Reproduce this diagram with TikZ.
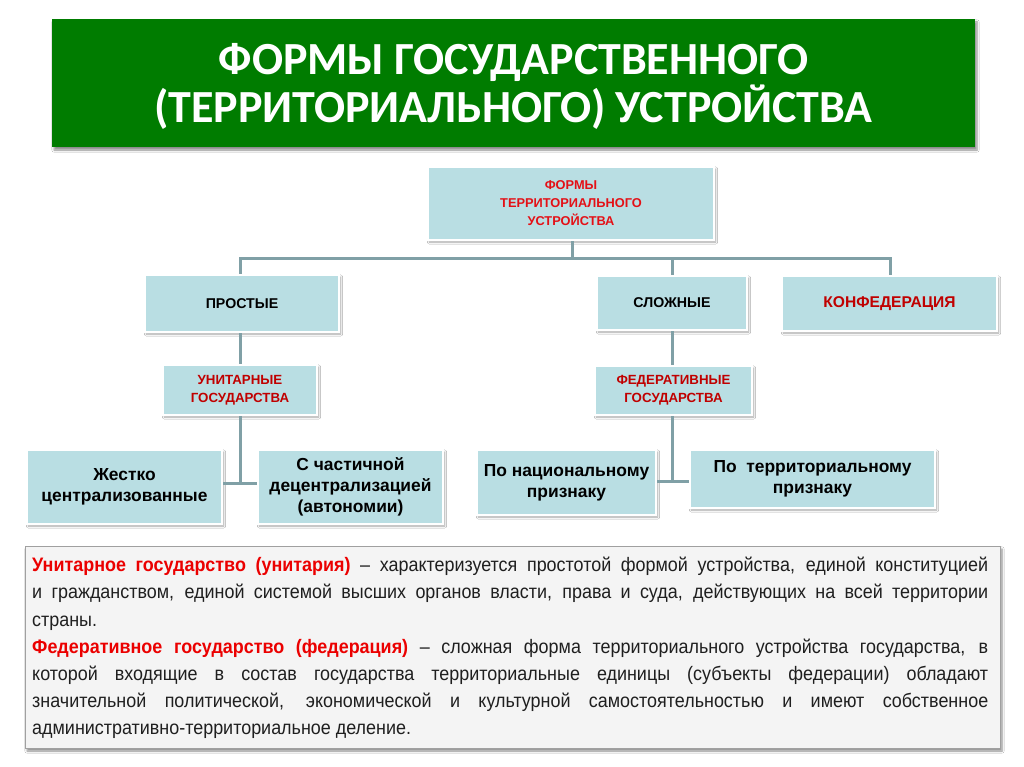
\documentclass[tikz,border=0pt]{standalone}
\usepackage{fontspec}
\setmainfont{Liberation Sans}
\newfontfamily\titlefont{Carlito}
\newfontfamily\bodyfont[FakeStretch=0.92]{Liberation Sans}
\usetikzlibrary{shadows.blur}
\definecolor{ttlgreen}{RGB}{0,124,0}
\definecolor{boxblue}{RGB}{185,222,227}
\definecolor{connc}{RGB}{128,160,166}
\definecolor{dred}{RGB}{192,0,0}
\definecolor{bred}{RGB}{228,16,22}
\definecolor{txtred}{RGB}{235,0,0}
\definecolor{panel}{RGB}{244,244,244}
\definecolor{panelborder}{RGB}{160,160,160}
\begin{document}
\begin{tikzpicture}[x=1pt,y=-1pt,
  bx/.style={draw=white, line width=2.5pt, fill=boxblue,
    blur shadow={shadow xshift=1.5pt, shadow yshift=-2pt, shadow blur steps=6, shadow opacity=35},
    inner sep=0pt, align=center},
  conn/.style={draw=connc, line width=3pt},
  capsm/.style={font=\bfseries\fontsize{12.8}{18}\selectfont},
  capun/.style={font=\bfseries\fontsize{13.3}{18}\selectfont},
  capmd/.style={font=\bfseries\fontsize{14.2}{18}\selectfont},
  lower/.style={font=\bfseries\fontsize{17.4}{21}\selectfont, text=black}
]
\fill[white] (0,0) rectangle (1024,767);
\useasboundingbox (0,0) rectangle (1024,767);

% title
\fill[ttlgreen, blur shadow={shadow xshift=2pt, shadow yshift=-3pt, shadow blur steps=6, shadow opacity=45}]
  (52,19) rectangle (975,147);
\node[inner sep=0pt, align=center, text=white, font=\titlefont\bfseries\fontsize{46}{48}\selectfont]
  (title) at (513.5,86) {ФОРМЫ ГОСУДАРСТВЕННОГО\\(ТЕРРИТОРИАЛЬНОГО) УСТРОЙСТВА};

% bus coordinates
\coordinate (bus) at (0,258);
\coordinate (ubus) at (0,483);
\coordinate (fbus) at (0,481);
\coordinate (tx) at (572,0);
\coordinate (px) at (240,0);
\coordinate (sx) at (672,0);
\coordinate (kx) at (890,0);

% boxes
\node[bx, capsm, text=bred, minimum width=286pt, minimum height=73pt] (top) at (571,203.5) {ФОРМЫ\\ТЕРРИТОРИАЛЬНОГО\\УСТРОЙСТВА};
\node[bx, capmd, minimum width=194pt, minimum height=57pt] (prost) at (242,303.5) {ПРОСТЫЕ};
\node[bx, capmd, minimum width=150pt, minimum height=54pt] (slozh) at (672,303) {СЛОЖНЫЕ};
\node[bx, font=\bfseries\fontsize{15.6}{18}\selectfont, text=dred, minimum width=215pt, minimum height=55pt] (konf) at (889.5,303.5) {КОНФЕДЕРАЦИЯ};
\node[bx, capun, text=dred, minimum width=154pt, minimum height=50pt] (unit) at (240,390) {УНИТАРНЫЕ\\ГОСУДАРСТВА};
\node[bx, capun, text=dred, minimum width=157pt, minimum height=49pt] (fed) at (673.5,390.5) {ФЕДЕРАТИВНЫЕ\\ГОСУДАРСТВА};
\node[bx, lower, minimum width=195pt, minimum height=74pt] (zhest) at (124.5,487) {Жестко\\централизованные};
\node[bx, lower, minimum width=185pt, minimum height=74pt] (chast) at (350.5,487) {С частичной\\децентрализацией\\(автономии)};
\node[bx, lower, minimum width=179pt, minimum height=65pt] (nac) at (566.5,482.5) {По национальному\\признаку};
\node[bx, lower, minimum width=245pt, minimum height=58pt] (terr) at (812.5,479) {По~ территориальному\\признаку};

% connector lines
\draw[conn] (top.south -| tx) -- (tx |- bus);
\draw[conn] (px |- prost.north) -- (px |- bus) -- (kx |- bus) -- (kx |- konf.north);
\draw[conn] (sx |- slozh.north) -- (sx |- bus);
\draw[conn] (px |- prost.south) -- (px |- unit.north);
\draw[conn] (px |- unit.south) -- (px |- ubus);
\draw[conn] (zhest.east |- ubus) -- (chast.west |- ubus);
\draw[conn] (sx |- slozh.south) -- (sx |- fed.north);
\draw[conn] (sx |- fed.south) -- (sx |- fbus);
\draw[conn] (nac.east |- fbus) -- (terr.west |- fbus);

% bottom panel
\node[draw=panelborder, line width=1pt, fill=panel, minimum width=975pt, minimum height=202pt,
  blur shadow={shadow xshift=2pt, shadow yshift=-3pt, shadow blur steps=6, shadow opacity=45}]
  (panel) at (512.5,647) {};
\node[anchor=north west, inner sep=0pt, text width=956pt, align=justify,
  font=\bodyfont\fontsize{19.5}{27.2}\selectfont, text=black!88] (def) at (32,557)
{{\bfseries\color{txtred}Унитарное государство (унитария)} – характеризуется простотой формой устройства, единой конституцией\linebreak
и гражданством, единой системой высших органов власти, права и суда, действующих на всей территории\linebreak
страны.\\
{\bfseries\color{txtred}Федеративное государство (федерация)} – сложная форма территориального устройства государства, в\linebreak
которой входящие в состав государства территориальные единицы (субъекты федерации) обладают\linebreak
значительной политической, экономической и культурной самостоятельностью и имеют собственное\linebreak
административно-территориальное деление.};
\end{tikzpicture}
\end{document}
